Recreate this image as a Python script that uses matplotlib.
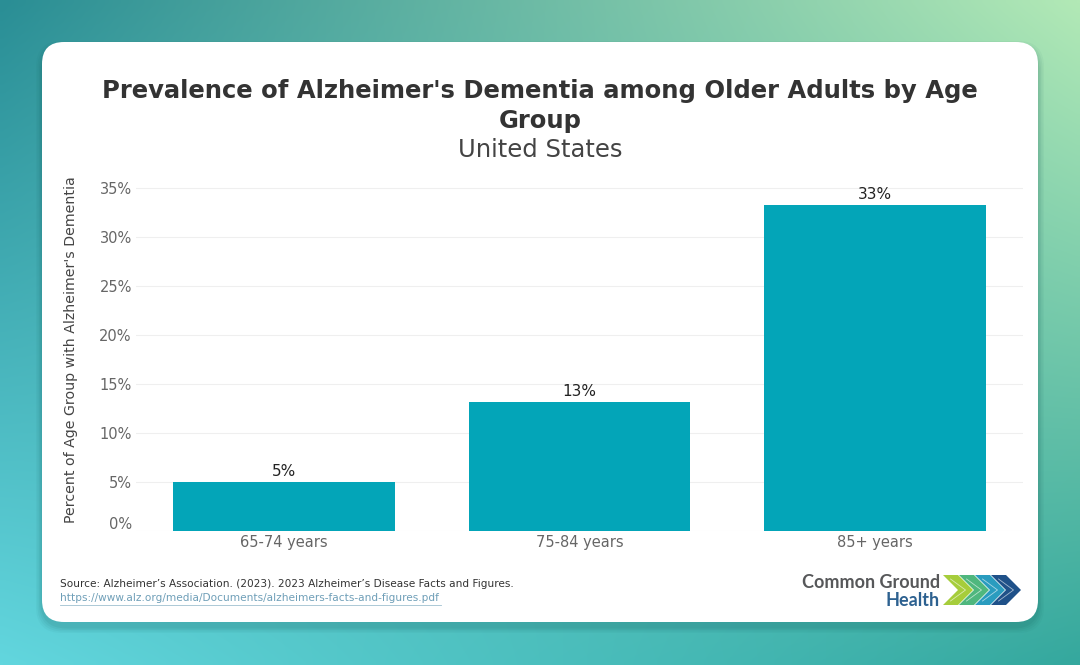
import numpy as np
import matplotlib.pyplot as plt
from matplotlib.patches import FancyBboxPatch, Polygon
from matplotlib.colors import to_rgb
from matplotlib.ticker import FuncFormatter
import matplotlib.transforms as mtransforms

plt.rcParams['font.family'] = ['DejaVu Sans']

# data
age_groups = ['65-74 years', '75-84 years', '85+ years']
prevalence = [5.0, 13.2, 33.3]
y_ticks = [0, 5, 10, 15, 20, 25, 30, 35]

title = "Prevalence of Alzheimer's Dementia among Older Adults by Age\nGroup"
subtitle = "United States"
y_label = "Percent of Age Group with Alzheimer's Dementia"
source = "Source: Alzheimer\u2019s Association. (2023). 2023 Alzheimer\u2019s Disease Facts and Figures."
url = "https://www.alz.org/media/Documents/alzheimers-facts-and-figures.pdf"

bar_color = '#03a5b8'

fig = plt.figure(figsize=(10.8, 6.65), dpi=100)

# background gradient + card, drawn in pixel coordinates
bg = fig.add_axes([0, 0, 1, 1])
bg.set_xlim(0, 1080)
bg.set_ylim(665, 0)
bg.axis('off')
tl, tr = np.array(to_rgb('#2a8e95')), np.array(to_rgb('#b2e9b6'))
bl, br = np.array(to_rgb('#62d6de')), np.array(to_rgb('#35a89e'))
u = np.linspace(0, 1, 200)[None, :, None]
v = np.linspace(0, 1, 120)[:, None, None]
grad = (1 - v) * ((1 - u) * tl + u * tr) + v * ((1 - u) * bl + u * br)
bg.imshow(grad, extent=[0, 1080, 665, 0], interpolation='bilinear', aspect='auto')

# soft shadow under the card
for i, a in enumerate([0.04, 0.05, 0.06, 0.07]):
    s = 12 - 3 * i
    bg.add_patch(FancyBboxPatch((42 - s / 2, 47 - s / 2), 996 + s, 580 + s,
                                boxstyle='round,pad=0,rounding_size=26',
                                fc='#0b4f4f', ec='none', alpha=a))
bg.add_patch(FancyBboxPatch((42, 42), 996, 580, boxstyle='round,pad=0,rounding_size=22',
                            fc='white', ec='none'))

# logo chevrons
chev_colors = ['#a6cd3b', '#4fb77e', '#2a9cbf', '#1f5189']
h, t, step = 30, 15, 16
for i, c in enumerate(chev_colors):
    x0, yc = 943 + i * step, 590
    pts = [(x0, yc - h / 2), (x0 + t, yc - h / 2), (x0 + t + h / 2, yc), (x0 + t, yc + h / 2),
           (x0, yc + h / 2), (x0 + h / 2, yc)]
    bg.add_patch(Polygon(pts, closed=True, fc=c, ec='none'))
    xm = x0 + t / 2
    bg.plot([xm, xm + h / 2, xm], [yc - h / 2 + 4, yc, yc + h / 2 - 4],
            color='white', lw=0.6, alpha=0.6)

bg.text(940, 583, 'Common Ground', ha='right', va='center', fontsize=13,
        fontweight='bold', color='#57585a', family='Lato')
bg.text(940, 600, 'Health', ha='right', va='center', fontsize=13,
        fontweight='bold', color='#2d6190', family='Lato')

bg.text(60, 584, source, ha='left', va='center', fontsize=7.6, color='#333333')
bg.text(60, 598, url, ha='left', va='center', fontsize=7.6, color='#6f9fb8')
bg.plot([60, 441], [604.5, 604.5], color='#9fc0d0', lw=0.6)

# titles
fig.text(0.5, 1 - 106 / 665, title, ha='center', va='center', fontsize=17.5,
         fontweight='bold', color='#333333', linespacing=1.28)
fig.text(0.5, 1 - 150 / 665, subtitle, ha='center', va='center', fontsize=17.5,
         color='#444444')

# main chart
ax = fig.add_axes([136 / 1080, 134 / 665, 887 / 1080, 345 / 665])
ax.set_facecolor('none')
x = np.arange(len(age_groups))
bars = ax.bar(x, prevalence, width=0.75, color=bar_color, zorder=2)
for b, val in zip(bars, prevalence):
    ax.annotate(f'{val:.0f}%', (b.get_x() + b.get_width() / 2, val), xytext=(0, 2),
                textcoords='offset points', ha='center', va='bottom',
                fontsize=11, color='#222222')

ax.set_xlim(-0.5, 2.5)
ax.set_ylim(0, 35.2)
ax.set_xticks(x)
ax.set_xticklabels(age_groups)
ax.set_yticks(y_ticks)
ax.yaxis.set_major_formatter(FuncFormatter(lambda val, p: f'{val:.0f}%'))
ax.grid(axis='y', color='#efefef', lw=0.8, zorder=0)
for sp in ax.spines.values():
    sp.set_visible(False)
ax.tick_params(axis='both', length=0, labelsize=10.5, labelcolor='#666666')
ax.tick_params(axis='y', pad=3)
ax.tick_params(axis='x', pad=3)
ax.set_ylabel(y_label, fontsize=10.2, color='#444444')
ax.yaxis.set_label_coords(-0.065, 0.525)

# zero label sits a little above its gridline
zero_lbl = ax.get_yticklabels()[0]
zero_lbl.set_transform(zero_lbl.get_transform() +
                       mtransforms.ScaledTranslation(0, 8 / 100, fig.dpi_scale_trans))

fig.savefig('out.png', dpi=100)
